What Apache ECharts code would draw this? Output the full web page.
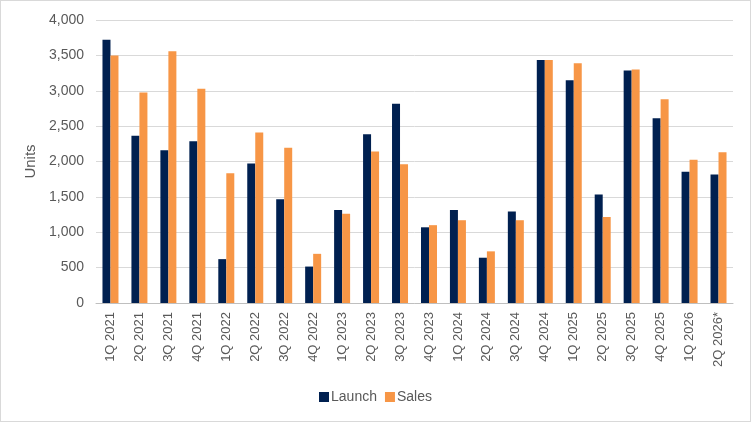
<!DOCTYPE html>
<html lang="en">
<head>
    <meta charset="UTF-8">
    <title>Launch vs Sales</title>
    <style>
        * { margin: 0; padding: 0; }
        body { background: #fff; }
        .mychart {
            width: 749px;
            height: 420px;
            border: 1px solid #d9d9d9;
        }
    </style>
</head>
<body>
    <div class="mychart"></div>
    <script src="https://cdn.jsdelivr.net/npm/echarts@6/dist/echarts.min.js"></script>
    <script>
        // quarters on the x axis
        const quarters = ['1Q 2021', '2Q 2021', '3Q 2021', '4Q 2021', '1Q 2022', '2Q 2022', '3Q 2022', '4Q 2022',
            '1Q 2023', '2Q 2023', '3Q 2023', '4Q 2023', '1Q 2024', '2Q 2024', '3Q 2024', '4Q 2024',
            '1Q 2025', '2Q 2025', '3Q 2025', '4Q 2025', '1Q 2026', '2Q 2026*']

        const launch = [3720, 2365, 2160, 2285, 620, 1970, 1465, 515, 1315, 2385, 2815, 1070,
            1315, 640, 1295, 3435, 3150, 1535, 3285, 2610, 1855, 1815]
        const sales = [3500, 2975, 3560, 3030, 1835, 2410, 2195, 695, 1260, 2140, 1960, 1100,
            1170, 730, 1170, 3435, 3390, 1215, 3300, 2880, 2025, 2130]

        const myChart = echarts.init(document.querySelector('.mychart'))

        const font = 'Liberation Sans, Arial, sans-serif'

        myChart.setOption({
            animation: false,
            textStyle: { fontFamily: font },
            legend: {
                bottom: 12,
                left: 'center',
                itemWidth: 10,
                itemHeight: 10,
                itemGap: 8,
                icon: 'rect',
                textStyle: { color: '#595959', fontSize: 14, padding: [0, 0, 0, -3] },
                data: ['Launch', 'Sales']
            },
            grid: {
                left: 95,
                right: 17,
                top: 19,
                bottom: 118
            },
            xAxis: {
                type: 'category',
                data: quarters,
                axisLine: { lineStyle: { color: '#bfbfbf' } },
                axisTick: { show: false },
                axisLabel: {
                    rotate: 90,
                    color: '#595959',
                    fontSize: 13,
                    margin: 9,
                    interval: 0
                }
            },
            yAxis: {
                type: 'value',
                name: 'Units',
                nameLocation: 'middle',
                nameGap: 50,
                nameTextStyle: { color: '#595959', fontSize: 15 },
                min: 0,
                max: 4000,
                interval: 500,
                axisLabel: {
                    color: '#595959',
                    fontSize: 14,
                    margin: 12,
                    formatter: v => v.toLocaleString('en-US')
                },
                splitLine: { lineStyle: { color: '#d9d9d9' } }
            },
            series: [{
                    name: 'Launch',
                    type: 'bar',
                    data: launch,
                    barWidth: 8,
                    barGap: '0%',
                    itemStyle: { color: '#002050' }
                },
                {
                    name: 'Sales',
                    type: 'bar',
                    data: sales,
                    barWidth: 8,
                    itemStyle: { color: '#f79646' }
                }
            ]
        })
    </script>
</body>
</html>
